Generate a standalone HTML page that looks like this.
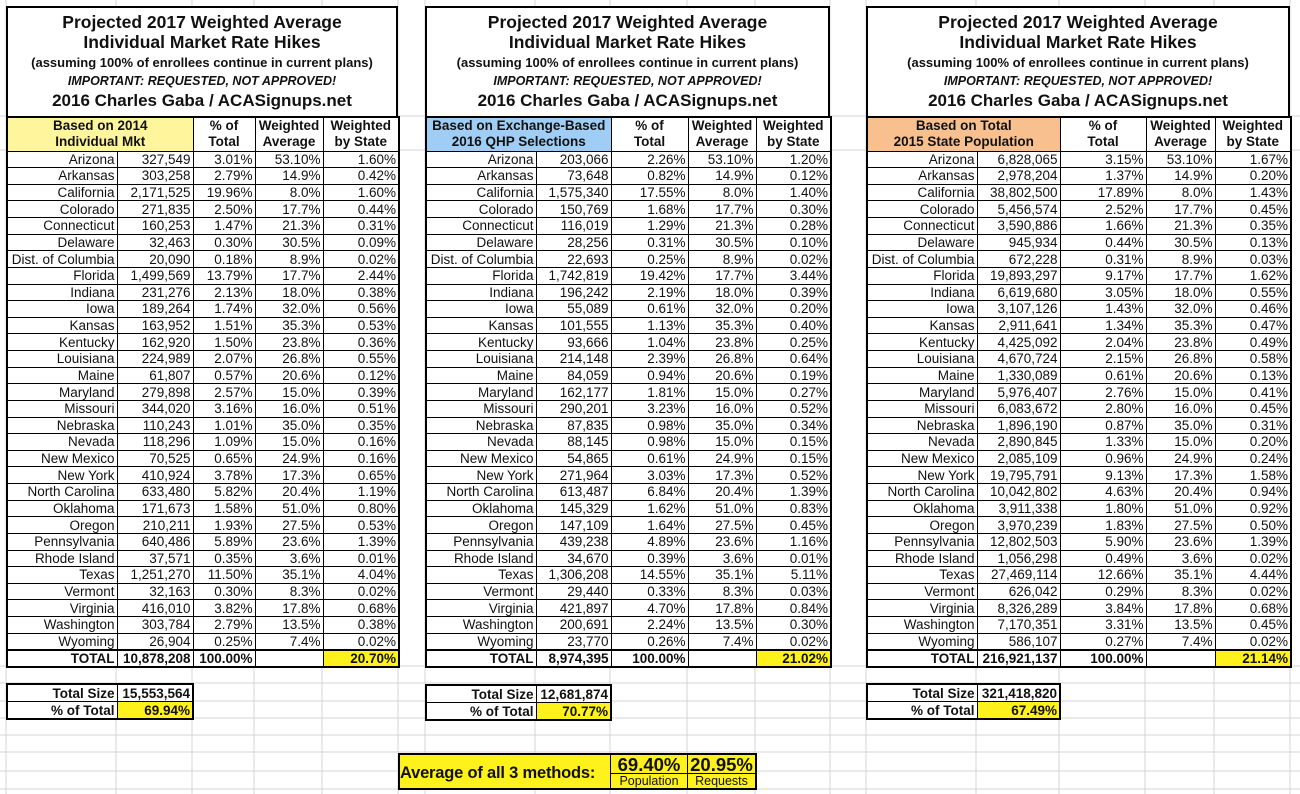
<!DOCTYPE html>
<html><head><meta charset="utf-8">
<style>
*{box-sizing:border-box;margin:0;padding:0}
body{width:1300px;height:794px;background:#fff;position:relative;overflow:hidden;font-family:"Liberation Sans",Arial,sans-serif;color:#111}
svg.grid{position:absolute;left:0;top:0}
.title{position:absolute;top:6px;height:112px;border:2px solid #000;border-bottom:none;background:#fff;text-align:center;font-weight:bold}
.title .l1{font-size:17.5px;line-height:20px;margin-top:4px}
.title .l3{font-size:13px;line-height:19px;margin-top:1px}
.title .l4{font-size:12.5px;line-height:18px;font-style:italic}
.title .l5{font-size:17px;line-height:21px}
table{position:absolute;border-collapse:collapse;background:#fff;table-layout:fixed}
td{border:1px solid #000;font-size:13.5px;text-align:right;padding:0 2px 0 0;height:16.63px;line-height:15px;white-space:nowrap;overflow:hidden}
table.main{border:2px solid #000}
tr.hd td{height:34px;font-weight:bold;text-align:center;line-height:16px;font-size:13.5px;padding:0}
tr.tot td{font-weight:bold;height:17px;border-top:2px solid #000}
.y{background:#fff21c}
.box{border:2px solid #000}
.box td{font-weight:bold;height:17.5px}
</style></head><body>
<svg class="grid" width="1300" height="794">
<g stroke="#d4d4d4" stroke-width="1">
<line x1="6" y1="0" x2="6" y2="794"/><line x1="116" y1="0" x2="116" y2="794"/><line x1="192" y1="0" x2="192" y2="794"/><line x1="254" y1="0" x2="254" y2="794"/><line x1="322" y1="0" x2="322" y2="794"/><line x1="398" y1="0" x2="398" y2="794"/><line x1="425" y1="0" x2="425" y2="794"/><line x1="535" y1="0" x2="535" y2="794"/><line x1="610" y1="0" x2="610" y2="794"/><line x1="687" y1="0" x2="687" y2="794"/><line x1="755" y1="0" x2="755" y2="794"/><line x1="830" y1="0" x2="830" y2="794"/><line x1="866" y1="0" x2="866" y2="794"/><line x1="976" y1="0" x2="976" y2="794"/><line x1="1059" y1="0" x2="1059" y2="794"/><line x1="1145" y1="0" x2="1145" y2="794"/><line x1="1214" y1="0" x2="1214" y2="794"/><line x1="1290" y1="0" x2="1290" y2="794"/>
<line x1="0" y1="666" x2="1300" y2="666"/><line x1="0" y1="683" x2="1300" y2="683"/><line x1="0" y1="701" x2="1300" y2="701"/><line x1="0" y1="718" x2="1300" y2="718"/><line x1="0" y1="735" x2="1300" y2="735"/><line x1="0" y1="752" x2="1300" y2="752"/><line x1="0" y1="771" x2="1300" y2="771"/><line x1="0" y1="789" x2="1300" y2="789"/>
<line x1="0" y1="150" x2="1300" y2="150"/><line x1="0" y1="116" x2="1300" y2="116"/>
</g></svg>

<div class="title" style="left:6px;width:392px"><div class="l1">Projected 2017 Weighted Average<br>Individual Market Rate Hikes</div><div class="l3">(assuming 100% of enrollees continue in current plans)</div><div class="l4">IMPORTANT: REQUESTED, NOT APPROVED!</div><div class="l5">2016 Charles Gaba / ACASignups.net</div></div>
<div class="title" style="left:425px;width:405px"><div class="l1">Projected 2017 Weighted Average<br>Individual Market Rate Hikes</div><div class="l3">(assuming 100% of enrollees continue in current plans)</div><div class="l4">IMPORTANT: REQUESTED, NOT APPROVED!</div><div class="l5">2016 Charles Gaba / ACASignups.net</div></div>
<div class="title" style="left:866px;width:424px"><div class="l1">Projected 2017 Weighted Average<br>Individual Market Rate Hikes</div><div class="l3">(assuming 100% of enrollees continue in current plans)</div><div class="l4">IMPORTANT: REQUESTED, NOT APPROVED!</div><div class="l5">2016 Charles Gaba / ACASignups.net</div></div>

<table class="main" style="left:6px;top:116px;width:392px">
<colgroup><col style="width:110px"><col style="width:76px"><col style="width:62px"><col style="width:68px"><col style="width:76px"></colgroup>
<tr class="hd"><td colspan="2" style="background:#fff59d">Based on 2014<br>Individual Mkt</td><td>% of<br>Total</td><td>Weighted<br>Average</td><td>Weighted<br>by State</td></tr>
<tr><td>Arizona</td><td>327,549</td><td>3.01%</td><td>53.10%</td><td>1.60%</td></tr>
<tr><td>Arkansas</td><td>303,258</td><td>2.79%</td><td>14.9%</td><td>0.42%</td></tr>
<tr><td>California</td><td>2,171,525</td><td>19.96%</td><td>8.0%</td><td>1.60%</td></tr>
<tr><td>Colorado</td><td>271,835</td><td>2.50%</td><td>17.7%</td><td>0.44%</td></tr>
<tr><td>Connecticut</td><td>160,253</td><td>1.47%</td><td>21.3%</td><td>0.31%</td></tr>
<tr><td>Delaware</td><td>32,463</td><td>0.30%</td><td>30.5%</td><td>0.09%</td></tr>
<tr><td>Dist. of Columbia</td><td>20,090</td><td>0.18%</td><td>8.9%</td><td>0.02%</td></tr>
<tr><td>Florida</td><td>1,499,569</td><td>13.79%</td><td>17.7%</td><td>2.44%</td></tr>
<tr><td>Indiana</td><td>231,276</td><td>2.13%</td><td>18.0%</td><td>0.38%</td></tr>
<tr><td>Iowa</td><td>189,264</td><td>1.74%</td><td>32.0%</td><td>0.56%</td></tr>
<tr><td>Kansas</td><td>163,952</td><td>1.51%</td><td>35.3%</td><td>0.53%</td></tr>
<tr><td>Kentucky</td><td>162,920</td><td>1.50%</td><td>23.8%</td><td>0.36%</td></tr>
<tr><td>Louisiana</td><td>224,989</td><td>2.07%</td><td>26.8%</td><td>0.55%</td></tr>
<tr><td>Maine</td><td>61,807</td><td>0.57%</td><td>20.6%</td><td>0.12%</td></tr>
<tr><td>Maryland</td><td>279,898</td><td>2.57%</td><td>15.0%</td><td>0.39%</td></tr>
<tr><td>Missouri</td><td>344,020</td><td>3.16%</td><td>16.0%</td><td>0.51%</td></tr>
<tr><td>Nebraska</td><td>110,243</td><td>1.01%</td><td>35.0%</td><td>0.35%</td></tr>
<tr><td>Nevada</td><td>118,296</td><td>1.09%</td><td>15.0%</td><td>0.16%</td></tr>
<tr><td>New Mexico</td><td>70,525</td><td>0.65%</td><td>24.9%</td><td>0.16%</td></tr>
<tr><td>New York</td><td>410,924</td><td>3.78%</td><td>17.3%</td><td>0.65%</td></tr>
<tr><td>North Carolina</td><td>633,480</td><td>5.82%</td><td>20.4%</td><td>1.19%</td></tr>
<tr><td>Oklahoma</td><td>171,673</td><td>1.58%</td><td>51.0%</td><td>0.80%</td></tr>
<tr><td>Oregon</td><td>210,211</td><td>1.93%</td><td>27.5%</td><td>0.53%</td></tr>
<tr><td>Pennsylvania</td><td>640,486</td><td>5.89%</td><td>23.6%</td><td>1.39%</td></tr>
<tr><td>Rhode Island</td><td>37,571</td><td>0.35%</td><td>3.6%</td><td>0.01%</td></tr>
<tr><td>Texas</td><td>1,251,270</td><td>11.50%</td><td>35.1%</td><td>4.04%</td></tr>
<tr><td>Vermont</td><td>32,163</td><td>0.30%</td><td>8.3%</td><td>0.02%</td></tr>
<tr><td>Virginia</td><td>416,010</td><td>3.82%</td><td>17.8%</td><td>0.68%</td></tr>
<tr><td>Washington</td><td>303,784</td><td>2.79%</td><td>13.5%</td><td>0.38%</td></tr>
<tr><td>Wyoming</td><td>26,904</td><td>0.25%</td><td>7.4%</td><td>0.02%</td></tr>
<tr class="tot"><td>TOTAL</td><td>10,878,208</td><td>100.00%</td><td></td><td class="y">20.70%</td></tr>
</table>

<table class="main" style="left:425px;top:116px;width:405px">
<colgroup><col style="width:110px"><col style="width:75px"><col style="width:77px"><col style="width:68px"><col style="width:75px"></colgroup>
<tr class="hd"><td colspan="2" style="background:#9fcdf5">Based on Exchange-Based<br>2016 QHP Selections</td><td>% of<br>Total</td><td>Weighted<br>Average</td><td>Weighted<br>by State</td></tr>
<tr><td>Arizona</td><td>203,066</td><td>2.26%</td><td>53.10%</td><td>1.20%</td></tr>
<tr><td>Arkansas</td><td>73,648</td><td>0.82%</td><td>14.9%</td><td>0.12%</td></tr>
<tr><td>California</td><td>1,575,340</td><td>17.55%</td><td>8.0%</td><td>1.40%</td></tr>
<tr><td>Colorado</td><td>150,769</td><td>1.68%</td><td>17.7%</td><td>0.30%</td></tr>
<tr><td>Connecticut</td><td>116,019</td><td>1.29%</td><td>21.3%</td><td>0.28%</td></tr>
<tr><td>Delaware</td><td>28,256</td><td>0.31%</td><td>30.5%</td><td>0.10%</td></tr>
<tr><td>Dist. of Columbia</td><td>22,693</td><td>0.25%</td><td>8.9%</td><td>0.02%</td></tr>
<tr><td>Florida</td><td>1,742,819</td><td>19.42%</td><td>17.7%</td><td>3.44%</td></tr>
<tr><td>Indiana</td><td>196,242</td><td>2.19%</td><td>18.0%</td><td>0.39%</td></tr>
<tr><td>Iowa</td><td>55,089</td><td>0.61%</td><td>32.0%</td><td>0.20%</td></tr>
<tr><td>Kansas</td><td>101,555</td><td>1.13%</td><td>35.3%</td><td>0.40%</td></tr>
<tr><td>Kentucky</td><td>93,666</td><td>1.04%</td><td>23.8%</td><td>0.25%</td></tr>
<tr><td>Louisiana</td><td>214,148</td><td>2.39%</td><td>26.8%</td><td>0.64%</td></tr>
<tr><td>Maine</td><td>84,059</td><td>0.94%</td><td>20.6%</td><td>0.19%</td></tr>
<tr><td>Maryland</td><td>162,177</td><td>1.81%</td><td>15.0%</td><td>0.27%</td></tr>
<tr><td>Missouri</td><td>290,201</td><td>3.23%</td><td>16.0%</td><td>0.52%</td></tr>
<tr><td>Nebraska</td><td>87,835</td><td>0.98%</td><td>35.0%</td><td>0.34%</td></tr>
<tr><td>Nevada</td><td>88,145</td><td>0.98%</td><td>15.0%</td><td>0.15%</td></tr>
<tr><td>New Mexico</td><td>54,865</td><td>0.61%</td><td>24.9%</td><td>0.15%</td></tr>
<tr><td>New York</td><td>271,964</td><td>3.03%</td><td>17.3%</td><td>0.52%</td></tr>
<tr><td>North Carolina</td><td>613,487</td><td>6.84%</td><td>20.4%</td><td>1.39%</td></tr>
<tr><td>Oklahoma</td><td>145,329</td><td>1.62%</td><td>51.0%</td><td>0.83%</td></tr>
<tr><td>Oregon</td><td>147,109</td><td>1.64%</td><td>27.5%</td><td>0.45%</td></tr>
<tr><td>Pennsylvania</td><td>439,238</td><td>4.89%</td><td>23.6%</td><td>1.16%</td></tr>
<tr><td>Rhode Island</td><td>34,670</td><td>0.39%</td><td>3.6%</td><td>0.01%</td></tr>
<tr><td>Texas</td><td>1,306,208</td><td>14.55%</td><td>35.1%</td><td>5.11%</td></tr>
<tr><td>Vermont</td><td>29,440</td><td>0.33%</td><td>8.3%</td><td>0.03%</td></tr>
<tr><td>Virginia</td><td>421,897</td><td>4.70%</td><td>17.8%</td><td>0.84%</td></tr>
<tr><td>Washington</td><td>200,691</td><td>2.24%</td><td>13.5%</td><td>0.30%</td></tr>
<tr><td>Wyoming</td><td>23,770</td><td>0.26%</td><td>7.4%</td><td>0.02%</td></tr>
<tr class="tot"><td>TOTAL</td><td>8,974,395</td><td>100.00%</td><td></td><td class="y">21.02%</td></tr>
</table>

<table class="main" style="left:866px;top:116px;width:424px">
<colgroup><col style="width:110px"><col style="width:83px"><col style="width:86px"><col style="width:69px"><col style="width:76px"></colgroup>
<tr class="hd"><td colspan="2" style="background:#f9c08f">Based on Total<br>2015 State Population</td><td>% of<br>Total</td><td>Weighted<br>Average</td><td>Weighted<br>by State</td></tr>
<tr><td>Arizona</td><td>6,828,065</td><td>3.15%</td><td>53.10%</td><td>1.67%</td></tr>
<tr><td>Arkansas</td><td>2,978,204</td><td>1.37%</td><td>14.9%</td><td>0.20%</td></tr>
<tr><td>California</td><td>38,802,500</td><td>17.89%</td><td>8.0%</td><td>1.43%</td></tr>
<tr><td>Colorado</td><td>5,456,574</td><td>2.52%</td><td>17.7%</td><td>0.45%</td></tr>
<tr><td>Connecticut</td><td>3,590,886</td><td>1.66%</td><td>21.3%</td><td>0.35%</td></tr>
<tr><td>Delaware</td><td>945,934</td><td>0.44%</td><td>30.5%</td><td>0.13%</td></tr>
<tr><td>Dist. of Columbia</td><td>672,228</td><td>0.31%</td><td>8.9%</td><td>0.03%</td></tr>
<tr><td>Florida</td><td>19,893,297</td><td>9.17%</td><td>17.7%</td><td>1.62%</td></tr>
<tr><td>Indiana</td><td>6,619,680</td><td>3.05%</td><td>18.0%</td><td>0.55%</td></tr>
<tr><td>Iowa</td><td>3,107,126</td><td>1.43%</td><td>32.0%</td><td>0.46%</td></tr>
<tr><td>Kansas</td><td>2,911,641</td><td>1.34%</td><td>35.3%</td><td>0.47%</td></tr>
<tr><td>Kentucky</td><td>4,425,092</td><td>2.04%</td><td>23.8%</td><td>0.49%</td></tr>
<tr><td>Louisiana</td><td>4,670,724</td><td>2.15%</td><td>26.8%</td><td>0.58%</td></tr>
<tr><td>Maine</td><td>1,330,089</td><td>0.61%</td><td>20.6%</td><td>0.13%</td></tr>
<tr><td>Maryland</td><td>5,976,407</td><td>2.76%</td><td>15.0%</td><td>0.41%</td></tr>
<tr><td>Missouri</td><td>6,083,672</td><td>2.80%</td><td>16.0%</td><td>0.45%</td></tr>
<tr><td>Nebraska</td><td>1,896,190</td><td>0.87%</td><td>35.0%</td><td>0.31%</td></tr>
<tr><td>Nevada</td><td>2,890,845</td><td>1.33%</td><td>15.0%</td><td>0.20%</td></tr>
<tr><td>New Mexico</td><td>2,085,109</td><td>0.96%</td><td>24.9%</td><td>0.24%</td></tr>
<tr><td>New York</td><td>19,795,791</td><td>9.13%</td><td>17.3%</td><td>1.58%</td></tr>
<tr><td>North Carolina</td><td>10,042,802</td><td>4.63%</td><td>20.4%</td><td>0.94%</td></tr>
<tr><td>Oklahoma</td><td>3,911,338</td><td>1.80%</td><td>51.0%</td><td>0.92%</td></tr>
<tr><td>Oregon</td><td>3,970,239</td><td>1.83%</td><td>27.5%</td><td>0.50%</td></tr>
<tr><td>Pennsylvania</td><td>12,802,503</td><td>5.90%</td><td>23.6%</td><td>1.39%</td></tr>
<tr><td>Rhode Island</td><td>1,056,298</td><td>0.49%</td><td>3.6%</td><td>0.02%</td></tr>
<tr><td>Texas</td><td>27,469,114</td><td>12.66%</td><td>35.1%</td><td>4.44%</td></tr>
<tr><td>Vermont</td><td>626,042</td><td>0.29%</td><td>8.3%</td><td>0.02%</td></tr>
<tr><td>Virginia</td><td>8,326,289</td><td>3.84%</td><td>17.8%</td><td>0.68%</td></tr>
<tr><td>Washington</td><td>7,170,351</td><td>3.31%</td><td>13.5%</td><td>0.45%</td></tr>
<tr><td>Wyoming</td><td>586,107</td><td>0.27%</td><td>7.4%</td><td>0.02%</td></tr>
<tr class="tot"><td>TOTAL</td><td>216,921,137</td><td>100.00%</td><td></td><td class="y">21.14%</td></tr>
</table>

<table class="box" style="left:6px;top:683px;width:186px">
<colgroup><col style="width:110px"><col style="width:76px"></colgroup>
<tr><td>Total Size</td><td>15,553,564</td></tr>
<tr><td>% of Total</td><td class="y">69.94%</td></tr>
</table>
<table class="box" style="left:425px;top:684px;width:185px">
<colgroup><col style="width:110px"><col style="width:75px"></colgroup>
<tr><td>Total Size</td><td>12,681,874</td></tr>
<tr><td>% of Total</td><td class="y">70.77%</td></tr>
</table>
<table class="box" style="left:866px;top:683px;width:193px">
<colgroup><col style="width:110px"><col style="width:83px"></colgroup>
<tr><td>Total Size</td><td>321,418,820</td></tr>
<tr><td>% of Total</td><td class="y">67.49%</td></tr>
</table>

<div style="position:absolute;left:398px;top:753px;width:359px;height:37px;border:2px solid #000;background:#fff21c">
 <div style="position:absolute;left:0;top:0;width:211px;height:33px;border-right:1px solid #000;font-weight:bold;font-size:16.5px;letter-spacing:-0.2px;line-height:36px;white-space:nowrap;overflow:hidden">Average of all 3 methods:</div>
 <div style="position:absolute;left:211px;top:0;width:77px;height:33px;border-right:1px solid #000;text-align:center">
  <div style="height:19px;border-bottom:1px solid #000;font-weight:bold;font-size:18.5px;line-height:19px">69.40%</div>
  <div style="font-size:12.5px;line-height:14px">Population</div></div>
 <div style="position:absolute;left:288px;top:0;width:67px;height:33px;text-align:center">
  <div style="height:19px;border-bottom:1px solid #000;font-weight:bold;font-size:18.5px;line-height:19px">20.95%</div>
  <div style="font-size:12.5px;line-height:14px">Requests</div></div>
</div>
</body></html>
